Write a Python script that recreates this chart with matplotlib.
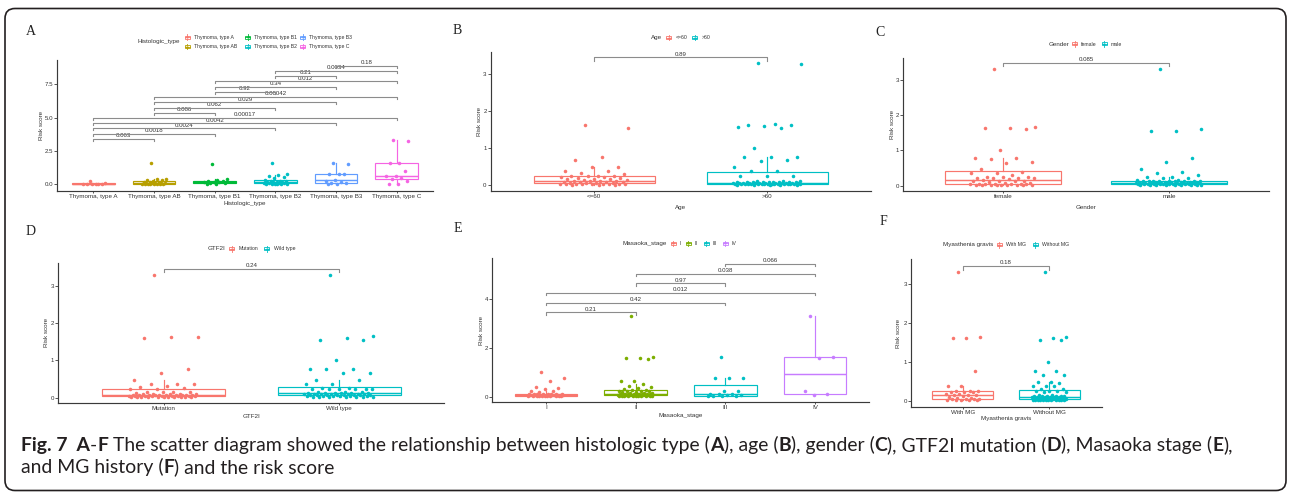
import numpy as np
import matplotlib
matplotlib.use("Agg")
import matplotlib.pyplot as plt
from matplotlib.patches import FancyBboxPatch, Rectangle

plt.rcParams['font.family'] = ['Liberation Sans', 'DejaVu Sans']

W, H = 1290, 494

# ---------------- data ----------------
hist_types = ["Thymoma, type A", "Thymoma, type AB", "Thymoma, type B1",
              "Thymoma, type B2", "Thymoma, type B3", "Thymoma, type C"]
hist_A = [0.25, 0.08, 0.06, 0.05, 0.04, 0.03, 0.02, 0.01]
hist_AB = [1.62, 0.40, 0.38, 0.34, 0.30, 0.25, 0.20, 0.17, 0.14, 0.12, 0.10,
           0.09, 0.08, 0.07, 0.06, 0.05, 0.05, 0.04, 0.03, 0.02, 0.02, 0.01]
hist_B1 = [1.52, 0.38, 0.32, 0.26, 0.22, 0.18, 0.16, 0.15, 0.12, 0.10, 0.06, 0.03]
hist_B2 = [1.62, 0.78, 0.72, 0.65, 0.55, 0.45, 0.32, 0.28, 0.25, 0.22, 0.20, 0.18,
           0.16, 0.14, 0.12, 0.11, 0.10, 0.08, 0.06, 0.05, 0.04, 0.03, 0.02, 0.01]
hist_B3 = [1.63, 1.55, 0.78, 0.76, 0.74, 0.36, 0.28, 0.18, 0.12, 0.10, 0.05, 0.02]
hist_C = [3.30, 3.28, 1.60, 1.58, 1.00, 0.66, 0.62, 0.45, 0.42, 0.25, 0.05, 0.03]
hist_pairs = [(1, 2), (1, 3), (1, 4), (1, 5), (1, 6), (2, 3), (2, 4), (2, 5),
              (2, 6), (3, 4), (3, 5), (3, 6), (4, 5), (4, 6), (5, 6)]
hist_p = ["0.063", "0.0018", "0.0024", "0.0042", "0.00017", "0.086", "0.062",
          "0.029", "0.00042", "0.92", "0.34", "0.012", "0.21", "0.0034", "0.18"]

age_groups = ["<=60", ">60"]
age_le60 = [1.63, 1.55, 0.77, 0.67, 0.48, 0.48, 0.38, 0.37, 0.32, 0.30, 0.25, 0.24,
            0.24, 0.23, 0.22, 0.22, 0.20, 0.18, 0.16, 0.15, 0.15, 0.14, 0.13, 0.12,
            0.12, 0.11, 0.10, 0.09, 0.08, 0.08, 0.07, 0.06, 0.06, 0.05, 0.05, 0.04,
            0.04, 0.03, 0.03, 0.03, 0.02, 0.02, 0.02, 0.02, 0.01, 0.01, 0.01]
age_gt60 = [3.30, 3.28, 1.65, 1.63, 1.62, 1.60, 1.58, 1.55, 1.00, 0.77, 0.77, 0.76,
            0.67, 0.66, 0.48, 0.38, 0.37, 0.25, 0.24, 0.24, 0.12, 0.11, 0.10, 0.09,
            0.09, 0.08, 0.08, 0.08, 0.07, 0.07, 0.07, 0.07, 0.06, 0.06, 0.06, 0.06,
            0.06, 0.06, 0.05, 0.05, 0.05, 0.05, 0.05, 0.05, 0.04, 0.04, 0.04, 0.04,
            0.04, 0.04, 0.03, 0.03, 0.03, 0.03, 0.03, 0.02, 0.02, 0.02, 0.02, 0.02,
            0.02, 0.01, 0.01, 0.01, 0.01, 0.01]
age_p = ["0.89"]

gender_groups = ["female", "male"]
gender_female = [3.30, 1.65, 1.63, 1.63, 1.60, 1.00, 0.77, 0.77, 0.76, 0.67, 0.65,
                 0.48, 0.38, 0.37, 0.37, 0.30, 0.25, 0.24, 0.24, 0.23, 0.22, 0.22,
                 0.22, 0.18, 0.15, 0.14, 0.13, 0.13, 0.12, 0.10, 0.08, 0.07, 0.06,
                 0.06, 0.05, 0.05, 0.05, 0.04, 0.04, 0.03, 0.03, 0.03, 0.02, 0.02,
                 0.02, 0.01, 0.01, 0.01]
gender_male = [3.30, 1.60, 1.55, 1.55, 0.77, 0.67, 0.47, 0.38, 0.37, 0.30, 0.25,
               0.24, 0.23, 0.22, 0.16, 0.15, 0.14, 0.14, 0.14, 0.13, 0.13, 0.13,
               0.12, 0.12, 0.12, 0.11, 0.11, 0.11, 0.10, 0.10, 0.10, 0.10, 0.09,
               0.09, 0.09, 0.09, 0.08, 0.08, 0.08, 0.08, 0.07, 0.07, 0.07, 0.07,
               0.06, 0.06, 0.06, 0.06, 0.05, 0.05, 0.05, 0.05, 0.05, 0.04, 0.04,
               0.04, 0.03, 0.03, 0.03, 0.02, 0.02, 0.02, 0.01, 0.01, 0.01]
gender_p = ["0.085"]

gtf2i_groups = ["Mutation", "Wild type"]
gtf2i_mut = [3.30, 1.63, 1.63, 1.60, 0.77, 0.67, 0.48, 0.38, 0.37, 0.37, 0.32, 0.30,
             0.25, 0.23, 0.22, 0.16, 0.15, 0.15, 0.14, 0.12, 0.11, 0.10, 0.10, 0.09,
             0.09, 0.08, 0.08, 0.08, 0.07, 0.07, 0.07, 0.06, 0.06, 0.06, 0.06, 0.05,
             0.05, 0.05, 0.05, 0.05, 0.04, 0.04, 0.04, 0.04, 0.03, 0.03, 0.03, 0.03,
             0.02, 0.02, 0.02, 0.02, 0.01, 0.01, 0.01]
gtf2i_wt = [3.30, 1.65, 1.60, 1.55, 1.55, 1.00, 0.77, 0.77, 0.77, 0.67, 0.67, 0.48,
            0.47, 0.38, 0.37, 0.25, 0.25, 0.24, 0.24, 0.23, 0.23, 0.22, 0.22, 0.15,
            0.14, 0.14, 0.13, 0.13, 0.12, 0.12, 0.12, 0.12, 0.11, 0.11, 0.10, 0.10,
            0.10, 0.09, 0.09, 0.08, 0.08, 0.08, 0.07, 0.07, 0.06, 0.06, 0.06, 0.05,
            0.05, 0.05, 0.04, 0.04, 0.04, 0.03, 0.03, 0.02, 0.02, 0.02, 0.01, 0.01]
gtf2i_p = ["0.24"]

stage_groups = ["I", "II", "III", "IV"]
stage_I = [1.00, 0.75, 0.65, 0.38, 0.35, 0.30, 0.22, 0.22, 0.20, 0.12, 0.11, 0.11,
           0.10, 0.10, 0.09, 0.09, 0.09, 0.08, 0.08, 0.08, 0.07, 0.07, 0.07, 0.06,
           0.06, 0.06, 0.05, 0.05, 0.05, 0.04, 0.04, 0.04, 0.03, 0.03, 0.03, 0.02,
           0.02, 0.02, 0.01, 0.01]
stage_II = [3.30, 1.62, 1.60, 1.57, 1.55, 0.65, 0.65, 0.50, 0.45, 0.40, 0.35, 0.30,
            0.28, 0.26, 0.25, 0.24, 0.23, 0.22, 0.20, 0.18, 0.16, 0.15, 0.14, 0.13,
            0.13, 0.12, 0.12, 0.11, 0.11, 0.10, 0.10, 0.09, 0.09, 0.08, 0.08, 0.07,
            0.07, 0.06, 0.06, 0.06, 0.05, 0.05, 0.05, 0.04, 0.04, 0.04, 0.03, 0.03,
            0.03, 0.02, 0.02, 0.02, 0.01, 0.01]
stage_III = [1.63, 0.77, 0.76, 0.75, 0.22, 0.22, 0.10, 0.10, 0.09, 0.06, 0.05,
             0.04, 0.03, 0.03, 0.02]
stage_IV = [3.30, 1.63, 1.60, 0.22, 0.10, 0.08]
stage_pairs = [(1, 2), (1, 3), (1, 4), (2, 3), (2, 4), (3, 4)]
stage_p = ["0.21", "0.42", "0.012", "0.97", "0.038", "0.066"]

mg_groups = ["With MG", "Without MG"]
mg_with = [3.30, 1.63, 1.62, 1.60, 0.77, 0.38, 0.37, 0.25, 0.24, 0.24, 0.23, 0.23,
           0.22, 0.17, 0.16, 0.15, 0.15, 0.14, 0.12, 0.10, 0.08, 0.06, 0.05, 0.05,
           0.04, 0.04, 0.03, 0.03, 0.02, 0.02, 0.01]
mg_without = [3.30, 1.63, 1.60, 1.55, 1.55, 1.00, 0.77, 0.77, 0.67, 0.66, 0.48, 0.47,
              0.46, 0.38, 0.37, 0.37, 0.30, 0.30, 0.25, 0.24, 0.24, 0.23, 0.22, 0.15,
              0.14, 0.13, 0.13, 0.12, 0.12, 0.11, 0.11, 0.10, 0.10, 0.10, 0.09, 0.09,
              0.09, 0.08, 0.08, 0.08, 0.08, 0.07, 0.07, 0.07, 0.07, 0.06, 0.06, 0.06,
              0.06, 0.05, 0.05, 0.05, 0.05, 0.05, 0.04, 0.04, 0.04, 0.04, 0.03, 0.03,
              0.03, 0.03, 0.02, 0.02, 0.02, 0.02, 0.01, 0.01, 0.01, 0.01]
mg_p = ["0.18"]

HUE6 = ["#F8766D", "#B79F00", "#00BA38", "#00BFC4", "#619CFF", "#F564E3"]
HUE4 = ["#F8766D", "#7CAE00", "#00BFC4", "#C77CFF"]
HUE2 = ["#F8766D", "#00BFC4"]

TXT = "#333333"
AXC = "#3a3a3a"

# ---------------- figure ----------------
fig = plt.figure(figsize=(W / 100, H / 100), dpi=100)
fig.patch.set_facecolor("white")

# pixel-space overlay for frame, legends, panel letters and caption
ov = fig.add_axes([0, 0, 1, 1], zorder=10)
ov.set_xlim(0, W)
ov.set_ylim(H, 0)
ov.axis("off")
ov.patch.set_alpha(0)


def draw_panel(rect, cats, groups, colors, ylim, yticks, yticklabels, xlabel,
               xlabel_xy, ylabel_x, pairs, pvals, br_start, br_step, tip_px):
    x0, y0, x1, y1 = rect
    ax = fig.add_axes([x0 / W, 1 - y1 / H, (x1 - x0) / W, (y1 - y0) / H])
    upp = (ylim[1] - ylim[0]) / (y1 - y0)
    for i, (vals, col) in enumerate(zip(groups, colors)):
        pos = i + 1
        ax.boxplot(vals, positions=[pos], widths=0.7, showfliers=False,
                   showcaps=False, patch_artist=True, manage_ticks=False,
                   boxprops=dict(facecolor="white", edgecolor=col, linewidth=0.85),
                   medianprops=dict(color=col, linewidth=1.05),
                   whiskerprops=dict(color=col, linewidth=0.85), zorder=2)
        n = len(vals)
        offs = 0.2 * (2 * ((np.arange(n) * 0.6180339887 + 0.37) % 1.0) - 1)
        ax.scatter(pos + offs, vals, s=6.5, color=col, linewidths=0, zorder=3)
    tip = tip_px * upp
    for k, ((a, b), p) in enumerate(zip(pairs, pvals)):
        yb = br_start + k * br_step
        ax.plot([a, a, b, b], [yb - tip, yb, yb, yb - tip], color="#8c8c8c",
                lw=0.8, zorder=4)
        ax.annotate(p, xy=((a + b) / 2, yb), xytext=(0, 0.5),
                    textcoords="offset points", ha="center", va="bottom",
                    fontsize=4.4, color=TXT)
    ax.set_xlim(0.4, len(cats) + 0.6)
    ax.set_ylim(*ylim)
    ax.set_xticks(range(1, len(cats) + 1))
    ax.set_xticklabels(cats)
    ax.set_yticks(yticks)
    ax.set_yticklabels(yticklabels)
    for s in ["top", "right"]:
        ax.spines[s].set_visible(False)
    for s in ["left", "bottom"]:
        ax.spines[s].set_color(AXC)
        ax.spines[s].set_linewidth(0.85)
    ax.tick_params(axis="x", length=1.5, width=0.6, pad=0.8, labelsize=4.5,
                   color=AXC, labelcolor=TXT)
    ax.tick_params(axis="y", length=2.0, width=0.6, pad=0.8, labelsize=4.4,
                   color=AXC, labelcolor=TXT)
    ax.set_xlabel(xlabel, fontsize=4.5, color=TXT)
    ax.xaxis.set_label_coords(xlabel_xy[0], xlabel_xy[1], transform=ov.transData)
    ax.xaxis.label.set_va("center")
    ax.set_ylabel("Risk score", fontsize=4.5, color=TXT)
    ax.yaxis.set_label_coords(ylabel_x, (y0 + y1) / 2, transform=ov.transData)
    ax.yaxis.label.set_va("center")
    return ax


def legend_key(cx, cy, color):
    bw, bh = 5.0, 3.0
    ov.add_patch(Rectangle((cx - bw / 2, cy - bh / 2), bw, bh, fill=False,
                           ec=color, lw=0.6))
    ov.plot([cx - bw / 2, cx + bw / 2], [cy, cy], color=color, lw=0.6)
    ov.plot([cx, cx], [cy - bh / 2 - 1.3, cy - bh / 2], color=color, lw=0.6)
    ov.plot([cx, cx], [cy + bh / 2, cy + bh / 2 + 1.3], color=color, lw=0.6)
    ov.scatter([cx], [cy], s=3, color=color, linewidths=0)


def legend_row(title, title_right, y, keys_x, labels_x, labels, colors):
    ov.text(title_right, y, title, ha="right", va="center", fontsize=4.5, color=TXT)
    for kx, lx, lab, col in zip(keys_x, labels_x, labels, colors):
        legend_key(kx, y, col)
        ov.text(lx, y, lab, ha="left", va="center", fontsize=3.7, color=TXT)


# A: histologic type
draw_panel((57, 60, 433, 191), hist_types,
           [hist_A, hist_AB, hist_B1, hist_B2, hist_B3, hist_C], HUE6,
           (-0.50, 9.32), [0, 2.5, 5.0, 7.5], ["0.0", "2.5", "5.0", "7.5"],
           "Histologic_type", (245, 203), 41.7,
           hist_pairs, hist_p, 3.40, 0.393, 2.0)
ov.text(180, 42, "Histologic_type", ha="right", va="center", fontsize=4.5, color=TXT)
for col_i in range(3):
    for row_i in range(2):
        gi = col_i * 2 + row_i
        ky = 37.3 + row_i * 9.4
        kx = [187.3, 247.7, 302.5][col_i]
        legend_key(kx, ky, HUE6[gi])
        ov.text(kx + 6.5, ky, hist_types[gi], ha="left", va="center",
                fontsize=3.7, color=TXT)

# B: age
draw_panel((490.5, 51.7, 871, 190.7), age_groups, [age_le60, age_gt60], HUE2,
           (-0.155, 3.61), [0, 1, 2, 3], ["0", "1", "2", "3"],
           "Age", (680.7, 207), 479.3, [(1, 2)], age_p, 3.46, 0.39, 3.5)
legend_row("Age", 662, 37.7, [668.7, 694.7], [675.5, 701.5], age_groups, HUE2)

# C: gender
draw_panel((903.3, 58.3, 1268.5, 190.7), gender_groups, [gender_female, gender_male],
           HUE2, (-0.14, 3.60), [0, 1, 2, 3], ["0", "1", "2", "3"],
           "Gender", (1086, 207), 892.3, [(1, 2)], gender_p, 3.47, 0.39, 3.0)
legend_row("Gender", 1069, 44, [1074.7, 1104.3], [1081, 1110.7], gender_groups, HUE2)

# D: GTF2I
draw_panel((58.3, 262.7, 444.5, 402.7), gtf2i_groups, [gtf2i_mut, gtf2i_wt], HUE2,
           (-0.134, 3.62), [0, 1, 2, 3], ["0", "1", "2", "3"],
           "GTF2I", (251.4, 416), 46.7, [(1, 2)], gtf2i_p, 3.46, 0.39, 3.3)
legend_row("GTF2I", 225, 248.7, [231.7, 266.7], [238.5, 273.5], gtf2i_groups, HUE2)

# E: Masaoka stage
draw_panel((492.3, 258.3, 868.8, 402.3), stage_groups,
           [stage_I, stage_II, stage_III, stage_IV], HUE4,
           (-0.23, 5.67), [0, 2, 4], ["0", "2", "4"],
           "Masaoka_stage", (680.5, 415.7), 481.7,
           stage_pairs, stage_p, 3.46, 0.394, 2.3)
legend_row("Masaoka_stage", 667, 243.3, [673.3, 688.3, 706, 725],
           [679.5, 694.5, 712.2, 731.2], stage_groups, HUE4)

# F: myasthenia gravis
draw_panel((910.7, 259.3, 1101.5, 406.7), mg_groups, [mg_with, mg_without], HUE2,
           (-0.154, 3.63), [0, 1, 2, 3], ["0", "1", "2", "3"],
           "Myasthenia gravis", (1006, 418.7), 898.7, [(1, 2)], mg_p, 3.47, 0.39, 4.0)
legend_row("Myasthenia gravis", 993, 244.7, [999, 1035], [1005.5, 1041.5],
           mg_groups, HUE2)

# panel letters
for letter, lx, ly in [("A", 26, 31.3), ("B", 452.7, 30.8), ("C", 875, 32.8),
                       ("D", 26, 231.7), ("E", 453.3, 228.7), ("F", 879.3, 221.3)]:
    ov.text(lx, ly, letter, ha="left", va="center", fontsize=10,
            family="Liberation Serif", color="#222222")

# outer frame
ov.add_patch(FancyBboxPatch((5, 8.5), 1281, 482,
                            boxstyle="round,pad=0,rounding_size=10",
                            fill=False, ec="#231f20", lw=1.2))

# caption with mixed weights
CAP_FAMILY = ["Lato", "DejaVu Sans"]
CAP_COLOR = "#231f20"
renderer = fig.canvas.get_renderer()


def seg_width(s, bold, size):
    kw = dict(fontsize=size, family=CAP_FAMILY, fontweight="bold" if bold else "normal")
    t1 = fig.text(0, 0, "|" + s + "|", **kw)
    t2 = fig.text(0, 0, "||", **kw)
    w = t1.get_window_extent(renderer).width - t2.get_window_extent(renderer).width
    t1.remove()
    t2.remove()
    return w


line1 = [("Fig. 7", True), ("  A", True), ("-", False), ("F", True),
         (" The scatter diagram showed the relationship between histologic type (", False),
         ("A", True), ("), age (", False), ("B", True), ("), gender (", False),
         ("C", True), ("), GTF2I mutation (", False), ("D", True),
         ("), Masaoka stage (", False), ("E", True), ("),", False)]
line2 = [("and MG history (", False), ("F", True), (") and the risk score", False)]

base = 14.0
total = sum(seg_width(s, b, base) for s, b in line1)
cap_size = base * 1216.0 / total


def draw_line(segs, x, y):
    for s, b in segs:
        ov.text(x, y, s, ha="left", va="baseline", fontsize=cap_size,
                family=CAP_FAMILY, fontweight="bold" if b else "normal",
                color=CAP_COLOR)
        x += seg_width(s, b, cap_size)


draw_line(line1, 20.7, 450.7)
draw_line(line2, 20.7, 472.7)

fig.savefig("out.png", dpi=100, facecolor="white")
